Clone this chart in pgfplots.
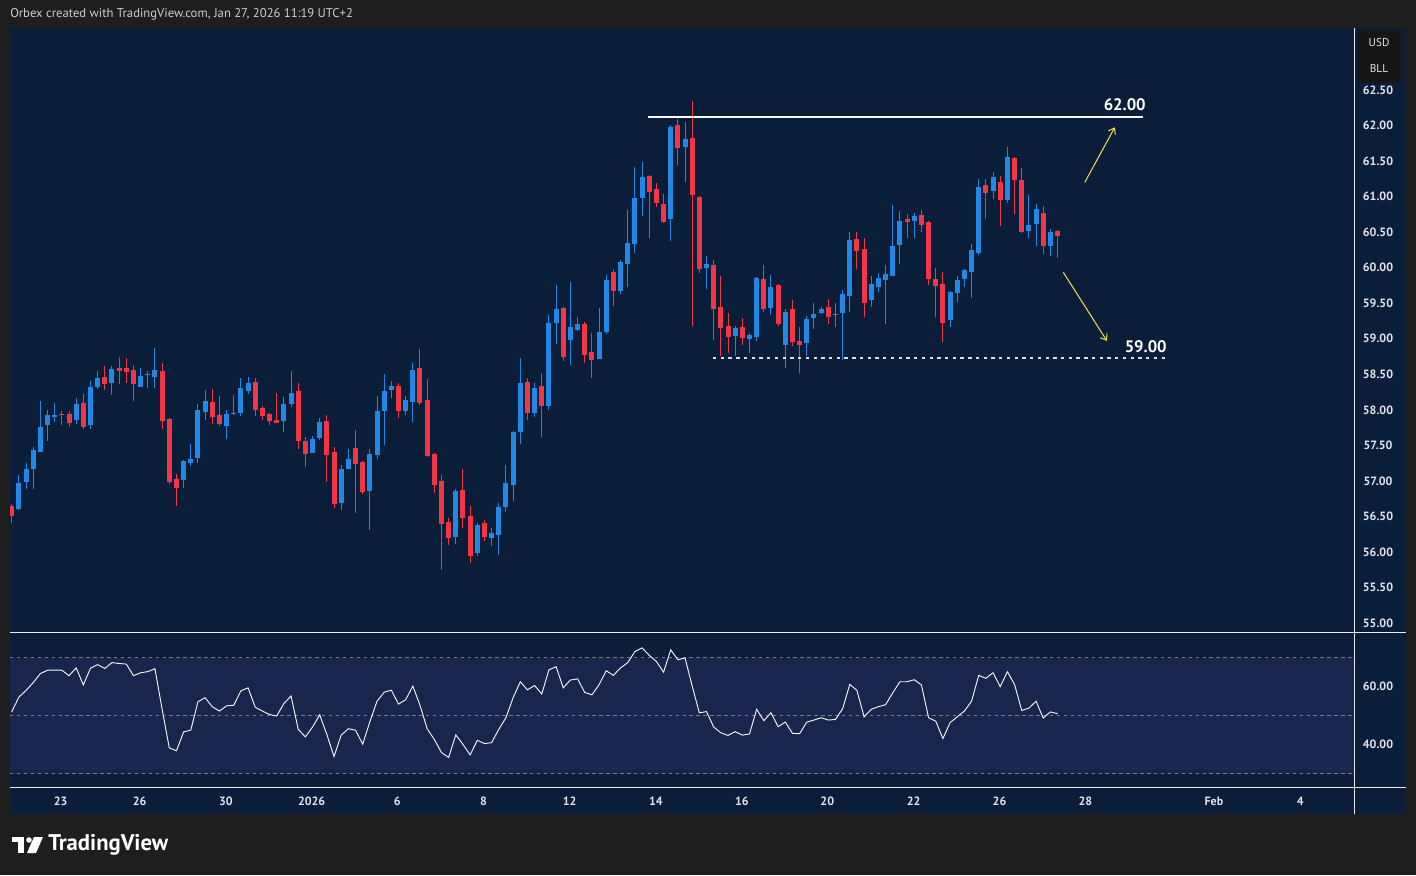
\documentclass[border=0pt]{standalone}
\usepackage{fontspec}
\setmainfont{PT Sans}
\usepackage{pgfplots}
\usepackage{pgfplotstable}
\pgfplotsset{compat=1.18}
\usetikzlibrary{arrows.meta}

\definecolor{outerbg}{RGB}{30,30,30}
\definecolor{navy}{RGB}{10,30,58}
\definecolor{rsiband}{RGB}{24,38,78}
\definecolor{upc}{RGB}{33,137,229}
\definecolor{dnc}{RGB}{242,54,69}
\definecolor{txt}{RGB}{225,228,235}
\definecolor{toptxt}{RGB}{205,205,205}
\definecolor{dashg}{RGB}{120,124,134}
\definecolor{yel}{RGB}{228,216,72}
\definecolor{sepc}{RGB}{235,235,235}
\definecolor{boxc}{RGB}{22,22,22}

\pgfplotstableread{
i o h l c
2 56.60 57.08 56.59 56.97
3 56.99 57.25 56.89 57.17
4 57.17 57.48 56.89 57.43
5 57.40 58.12 57.40 57.76
6 57.78 58.00 57.56 57.93
7 57.90 58.09 57.83 57.93
10 57.85 58.16 57.80 58.08
12 57.78 58.40 57.73 58.32
13 58.32 58.54 58.29 58.45
15 58.38 58.62 58.21 58.57
19 58.32 58.59 58.32 58.47
20 58.49 58.54 58.31 58.50
21 58.46 58.87 58.31 58.56
25 57.01 57.29 56.90 57.28
26 57.25 57.52 57.21 57.31
27 57.32 58.08 57.25 58.00
28 57.97 58.28 57.86 58.12
31 57.77 58.00 57.59 57.94
32 57.95 58.21 57.93 57.96
33 57.95 58.45 57.91 58.31
34 58.26 58.46 58.22 58.38
39 57.84 58.18 57.69 58.08
40 58.08 58.54 58.04 58.24
43 57.39 57.63 57.39 57.59
44 57.60 57.88 57.58 57.83
47 56.69 57.22 56.59 57.17
48 57.17 57.45 57.17 57.31
51 56.86 57.45 56.31 57.38
52 57.36 58.19 57.31 57.98
53 57.98 58.50 57.50 58.26
54 58.28 58.40 58.16 58.33
56 57.98 58.19 57.93 58.14
57 58.11 58.66 57.83 58.56
63 56.21 56.88 56.11 56.86
66 55.98 56.41 55.94 56.38
68 56.20 56.34 56.08 56.27
69 56.24 56.69 55.96 56.63
70 56.63 57.22 56.56 56.97
71 56.94 57.70 56.72 57.69
72 57.69 58.73 57.52 58.38
74 57.95 58.38 57.90 58.31
76 58.05 59.33 58.00 59.22
77 59.22 59.76 58.93 59.42
79 58.98 59.80 58.63 59.17
80 59.12 59.31 59.11 59.21
83 58.72 59.43 58.72 59.10
84 59.10 59.90 59.07 59.83
86 59.67 60.11 59.63 60.08
87 60.05 60.81 59.73 60.35
88 60.33 61.42 60.21 60.98
89 60.98 61.49 60.73 61.28
93 60.68 62.01 60.38 61.98
95 61.70 62.05 61.21 61.81
98 59.99 60.16 59.70 60.05
102 59.04 59.18 58.76 59.15
104 58.99 59.08 58.80 59.05
105 59.02 59.87 58.97 59.85
107 59.43 59.90 59.33 59.73
109 58.91 59.42 58.59 59.38
112 58.94 59.32 58.76 59.28
113 59.29 59.50 59.14 59.35
114 59.36 59.45 59.35 59.42
116 59.34 59.50 59.17 59.35
117 59.36 59.69 58.70 59.63
118 59.60 60.50 59.38 60.39
121 59.55 59.88 59.45 59.77
122 59.73 59.93 59.66 59.86
123 59.83 60.04 59.21 59.91
124 59.88 60.88 59.88 60.31
125 60.32 60.80 60.05 60.66
127 60.66 60.77 60.42 60.73
132 59.26 59.67 59.17 59.66
133 59.65 59.88 59.52 59.83
134 59.84 59.98 59.73 59.97
135 59.94 60.33 59.57 60.25
136 60.21 61.25 60.18 61.14
138 61.08 61.35 60.97 61.28
140 60.95 61.70 60.91 61.56
143 60.52 61.02 60.42 60.60
144 60.61 60.90 60.30 60.82
146 60.30 60.54 60.16 60.50
}\uptab

\pgfplotstableread{
i o h l c
1 56.65 56.67 56.41 56.51
8 57.94 57.98 57.79 57.93
9 57.94 57.98 57.76 57.81
11 58.09 58.22 57.73 57.76
14 58.46 58.62 58.28 58.36
16 58.59 58.74 58.36 58.55
17 58.59 58.73 58.38 58.53
18 58.56 58.63 58.12 58.36
22 58.54 58.66 57.73 57.84
23 57.87 57.88 56.96 56.98
24 57.02 57.10 56.65 56.90
29 58.11 58.29 57.80 57.90
30 57.93 58.19 57.77 57.80
35 58.39 58.45 57.91 58.00
36 58.03 58.05 57.86 57.91
37 57.94 57.95 57.79 57.84
38 57.86 58.24 57.81 57.82
41 58.26 58.38 57.45 57.56
42 57.56 57.62 57.20 57.38
45 57.84 57.93 56.99 57.36
46 57.41 57.48 56.62 56.67
49 57.46 57.71 56.55 57.24
50 57.26 57.28 56.81 56.84
55 58.33 58.38 57.88 57.98
58 58.59 58.85 58.07 58.09
59 58.14 58.43 57.34 57.35
60 57.38 57.39 56.83 56.94
61 57.00 57.08 55.75 56.39
62 56.42 56.48 56.10 56.20
64 56.87 57.17 56.34 56.48
65 56.50 56.64 55.84 55.94
67 56.41 56.45 56.15 56.21
73 58.39 58.45 57.85 57.95
75 58.34 58.52 57.62 58.05
78 59.43 59.45 58.69 58.74
81 59.21 59.24 58.66 58.77
82 58.81 59.08 58.45 58.70
85 59.94 59.98 59.46 59.67
90 61.29 61.30 60.42 61.07
91 61.11 61.19 60.85 60.91
92 60.90 61.04 60.63 60.64
94 62.01 62.09 61.44 61.68
96 61.82 62.35 59.18 61.02
97 60.99 61.01 59.92 59.98
99 60.04 60.11 58.98 59.42
100 59.45 59.88 58.76 59.15
101 59.18 59.36 58.80 59.02
103 59.17 59.29 58.91 59.01
106 59.84 60.04 59.38 59.42
108 59.76 59.77 59.18 59.21
110 59.42 59.55 58.90 58.95
111 58.97 59.17 58.52 58.91
115 59.45 59.56 59.21 59.31
119 60.40 60.50 59.98 60.24
120 60.26 60.42 59.31 59.50
126 60.69 60.76 60.42 60.64
128 60.74 60.81 60.50 60.60
129 60.64 60.65 59.76 59.84
130 59.84 60.00 59.31 59.74
131 59.77 59.94 58.95 59.22
137 61.16 61.25 60.69 61.05
139 61.20 61.29 60.59 60.95
141 61.54 61.55 60.76 61.23
142 61.23 61.40 60.49 60.50
145 60.77 60.87 60.19 60.31
147 60.52 60.53 60.14 60.45
}\dntab

\pgfplotstableread{
i r
1 51.3
2 56.4
3 58.7
4 61.4
5 64.5
6 65.7
7 65.7
8 65.7
9 63.8
10 66.5
11 60.6
12 66.4
13 67.6
14 66.3
15 68.3
16 68.0
17 67.8
18 63.8
19 64.8
20 65.2
21 66.2
22 52.2
23 38.9
24 37.9
25 44.4
26 45.0
27 54.8
28 56.2
29 53.1
30 51.6
31 53.4
32 53.6
33 58.6
34 59.6
35 52.9
36 51.6
37 50.4
38 49.9
39 54.2
40 56.8
41 45.3
42 42.7
43 46.1
44 50.3
45 43.5
46 35.9
47 43.3
48 45.5
49 45.0
50 40.2
51 47.9
52 55.0
53 58.1
54 58.8
55 54.0
56 55.5
57 60.2
58 53.6
59 45.5
60 41.8
61 37.3
62 35.6
63 43.4
64 40.1
65 36.5
66 41.5
67 40.4
68 40.7
69 45.3
70 49.3
71 56.2
72 61.7
73 58.9
74 60.4
75 57.5
76 65.8
77 66.9
78 59.6
79 62.3
80 62.7
81 58.0
82 57.2
83 60.7
84 65.5
85 63.9
86 66.5
87 68.3
88 72.1
89 73.4
90 70.8
91 68.7
92 65.0
93 72.7
94 69.3
95 69.9
96 60.2
97 51.0
98 51.4
99 46.1
100 44.1
101 43.2
102 44.5
103 43.3
104 43.7
105 52.2
106 48.3
107 51.0
108 46.2
109 47.8
110 43.9
111 43.8
112 47.8
113 48.5
114 49.3
115 48.5
116 48.7
117 52.4
118 60.8
119 58.7
120 49.6
121 52.2
122 53.1
123 53.8
124 57.9
125 61.7
126 61.7
127 62.4
128 60.6
129 49.3
130 48.1
131 42.1
132 47.6
133 49.6
134 51.6
135 55.0
136 63.9
137 62.9
138 64.8
139 60.0
140 65.2
141 60.8
142 51.8
143 52.6
144 55.0
145 49.2
146 51.3
147 50.7
}\rsitab

\pgfplotsset{
  tvaxis/.style={
    scale only axis, width=1008pt,
    xmin=0.763, xmax=188.39,
    axis line style={draw=none},
    tick style={draw=none}, major tick length=0pt,
    ticklabel style={font=\bfseries\fontsize{9}{10}\selectfont, text=txt},
    /pgf/number format/assume math mode=true,
    clip=true,
  },
  wick/.style={draw=none, mark=none, forget plot,
    error bars/.cd, y dir=plus, y explicit, error mark=none,
    error bar style={line width=0.75pt, draw=#1, solid}},
  body/.style={draw=none, mark=none, forget plot,
    error bars/.cd, y dir=plus, y explicit, error mark=none,
    error bar style={line width=3.75pt, draw=#1, solid}},
}

\begin{document}
\begin{tikzpicture}
\begin{scope}[x=0.75pt, y=0.75pt]
\fill[outerbg] (0,0) rectangle (1416,875);
\fill[navy] (10,61) rectangle (1406,847);
\end{scope}

% price panel: bottom-left corner at px (10, 632) -> (7.5pt, 182.25pt)
\begin{axis}[tvaxis, at={(7.5pt,182.25pt)}, anchor=south west, height=453pt,
  ymin=54.874, ymax=63.372, xtick=\empty,
  ytick={55,55.5,56,56.5,57,57.5,58,58.5,59,59.5,60,60.5,61,61.5,62,62.5},
  yticklabel pos=right,
  yticklabel style={anchor=center, xshift=18pt, /pgf/number format/.cd, fixed, fixed zerofill, precision=2}]
\addplot[wick=upc] table[x=i, y=l, y error plus expr=\thisrow{h}-\thisrow{l}] {\uptab};
\addplot[body=upc] table[x=i, y=o, y error plus expr=\thisrow{c}-\thisrow{o}] {\uptab};
\addplot[wick=dnc] table[x=i, y=l, y error plus expr=\thisrow{h}-\thisrow{l}] {\dntab};
\addplot[body=dnc] table[x=i, y=c, y error plus expr=\thisrow{o}-\thisrow{c}] {\dntab};
\draw[white, line width=1pt] (axis cs:89.83,62.12) -- (axis cs:158.9,62.12);
\node[font=\bfseries\fontsize{12.5}{13}\selectfont, text=white] at (axis cs:156.38,62.289) {62.00};
\draw[white!75!gray, line width=1pt, dash pattern=on 2.5pt off 3.3pt] (axis cs:98.9,58.73) -- (axis cs:162.4,58.73);
\node[font=\bfseries\fontsize{12.5}{13}\selectfont, text=white] at (axis cs:159.31,58.888) {59.00};
\draw[yel, line width=0.8pt, -{Straight Barb[length=4pt,width=6pt]}] (axis cs:150.8,61.20) -- (axis cs:155.0,61.975);
\draw[yel, line width=0.8pt, -{Straight Barb[length=4pt,width=6pt]}] (axis cs:147.8,59.935) -- (axis cs:153.9,58.97);
\end{axis}

% RSI panel: bottom-left corner at px (10, 787) -> (7.5pt, 66pt)
\begin{axis}[tvaxis, at={(7.5pt,66pt)}, anchor=south west, height=116.25pt,
  ymin=25.41, ymax=78.86,
  xtick={7.84,18.87,30.90,42.87,54.83,66.87,78.89,90.92,102.94,114.86,126.91,138.90,150.88,168.83,180.88},
  xticklabels={23,26,30,2026,6,8,12,14,16,20,22,26,28,Feb,4},
  xticklabel style={anchor=center, yshift=-10.5pt},
  ytick={40,60}, yticklabel pos=right,
  yticklabel style={anchor=center, xshift=18pt, /pgf/number format/.cd, fixed, fixed zerofill, precision=2}]
\fill[rsiband] (axis cs:0.763,30) rectangle (axis cs:188.39,70);
\draw[dashg, line width=0.75pt, dash pattern=on 2.6pt off 2.6pt] (axis cs:0.763,70) -- (axis cs:188.39,70);
\draw[dashg, line width=0.75pt, dash pattern=on 2.6pt off 2.6pt] (axis cs:0.763,50) -- (axis cs:188.39,50);
\draw[dashg, line width=0.75pt, dash pattern=on 2.6pt off 2.6pt] (axis cs:0.763,30) -- (axis cs:188.39,30);
\addplot[color=white!92!gray, line width=0.7pt, mark=none] table[x=i, y=r] {\rsitab};
\end{axis}

\begin{scope}[x=0.75pt, y=0.75pt]
% separators
\draw[sepc, line width=0.75pt] (10,243) -- (1406,243);
\draw[sepc, line width=0.75pt] (10,88) -- (1406,88);
\draw[sepc, line width=0.75pt] (1354,61) -- (1354,847);

% header text
\node[anchor=west, inner sep=0pt, text=toptxt, font=\fontsize{9.5}{10}\selectfont] at (10,861) {Orbex created with TradingView.com, Jan 27, 2026 11:19 UTC+2};

% currency box
\fill[boxc, rounded corners=4pt] (1357,792) rectangle (1401,845);
\node[text=txt, font=\fontsize{8.5}{9}\selectfont] at (1379,832) {USD};
\node[text=txt, font=\fontsize{8.5}{9}\selectfont] at (1379,806) {BLL};

% logo
\fill[white] (12,38) rectangle (24,33);
\fill[white] (18,38) rectangle (24,22);
\fill[white] (29,35) circle (2.8);
\fill[white] (34,38) -- (43,38) -- (36,22) -- (27,22) -- cycle;
\node[anchor=west, inner sep=0pt, text=white, font=\bfseries\fontsize{17}{19}\selectfont] at (48,30) {TradingView};

\pgfresetboundingbox
\path[use as bounding box] (0,0) rectangle (1416,875);
\end{scope}
\end{tikzpicture}
\end{document}
